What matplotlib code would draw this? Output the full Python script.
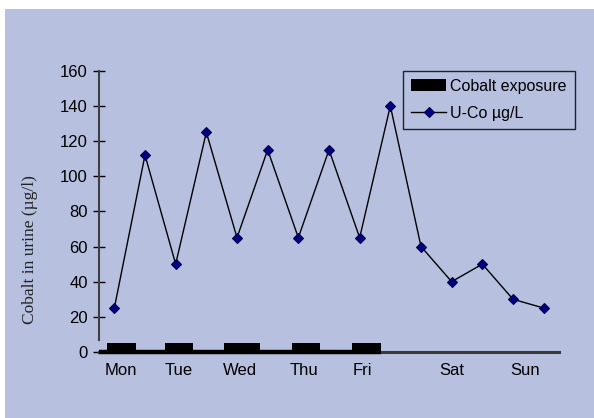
import matplotlib
matplotlib.use("Agg")
import matplotlib.pyplot as plt

# Urinary cobalt over one week, sampled before/after each shift
points = list(range(15))
u_co = [25, 112, 50, 125, 65, 115, 65, 115, 65, 140, 60, 40, 50, 30, 25]

# Day labels and where they sit along the sample axis
days = ["Mon", "Tue", "Wed", "Thu", "Fri", "Sat", "Sun"]
day_pos = [0.2, 2.1, 4.1, 6.2, 8.1, 11.0, 13.4]

# Work-shift exposure periods (start, duration) in sample units
exp_start = [-0.23, 1.66, 3.58, 5.8, 7.75]
exp_width = [0.95, 0.91, 1.18, 0.9, 0.95]
exp_level = [5, 5, 5, 5, 5]
work_week_end = 8.7

bg = "#B8C0E0"

fig = plt.figure(figsize=(5.94, 4.18), dpi=100)
fig.patch.set_facecolor("white")
# coloured panel with a thin white margin on top and left
panel = plt.Rectangle((5 / 594, 0), 1, 1 - 9 / 418,
                      transform=fig.transFigure, facecolor=bg,
                      edgecolor="none", zorder=-5)
fig.add_artist(panel)

ax = fig.add_axes([99 / 594, 66 / 418, 460 / 594, 281.3 / 418])
ax.set_zorder(2)
ax.set_facecolor("none")

bars = ax.bar(exp_start, exp_level, width=exp_width, align="edge",
              color="black", label="Cobalt exposure", zorder=3)
ax.plot([-0.5, work_week_end], [0, 0], color="black", lw=3.2,
        solid_capstyle="butt", clip_on=False, zorder=4)
line, = ax.plot(points, u_co, color="black", lw=1, marker="D", markersize=5,
                markerfacecolor="#000080", markeredgecolor="#000050",
                markeredgewidth=0.8, label="U-Co µg/L", zorder=5)

ax.set_xlim(-0.5, 14.5)
ax.set_ylim(0, 160)
ax.set_yticks(range(0, 161, 20))
ax.set_xticks(day_pos)
ax.set_xticklabels(days)

for s in ("top", "right"):
    ax.spines[s].set_visible(False)
ax.spines["left"].set_color("#404040")
ax.spines["left"].set_linewidth(1.5)
ax.spines["left"].set_bounds(6.8, 160)
ax.spines["bottom"].set_color("#3a3a3a")
ax.spines["bottom"].set_linewidth(2.2)

font = "Liberation Sans"
ax.tick_params(axis="y", direction="inout", length=8, width=1, color="black",
               pad=4, labelsize=12, labelcolor="black")
ax.tick_params(axis="x", length=0, pad=8, labelsize=12, labelcolor="black")
for lab in ax.get_xticklabels() + ax.get_yticklabels():
    lab.set_fontfamily(font)

fig.text(30 / 594, 0.402, "Cobalt in urine (µg/l)", rotation=90,
         ha="center", va="center", fontsize=12.5, family="Liberation Serif",
         color="#222222")

leg = ax.legend(handles=[bars, line], loc="upper left",
                bbox_to_anchor=(0.661, 1.0),
                borderaxespad=0, frameon=True, fancybox=False,
                facecolor=bg, edgecolor="#222222", framealpha=1,
                prop={"family": font, "size": 11.5}, handlelength=2.2,
                handleheight=0.8, handletextpad=0.25, borderpad=0.5,
                labelspacing=0.75)
leg.get_frame().set_linewidth(1)

fig.savefig("out.png", dpi=100, facecolor=fig.get_facecolor())
